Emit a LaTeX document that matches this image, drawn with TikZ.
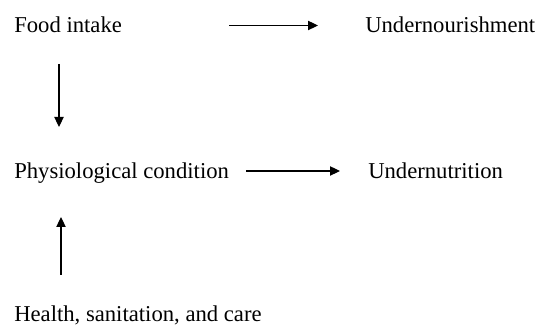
\documentclass[tikz,border=0pt]{standalone}
\usepackage{fontspec}
\setmainfont{Liberation Serif}
\usepackage{tikz}
\usetikzlibrary{arrows.meta}

\begin{document}
\begin{tikzpicture}[x=0.75pt,y=0.75pt,
			lbl/.style={anchor=base west,inner sep=0pt,font=\fontsize{17}{20}\selectfont},
			arr/.style={-{Triangle[length=7.5pt,width=7pt]},line width=0.8pt}]
			\useasboundingbox (0,0) rectangle (547,327);
			\node[lbl] (food) at (14,294) {Food intake};
			\node[lbl] (nourish) at (365,294) {Undernourishment};
			\node[lbl] (physio) at (14,148) {Physiological condition};
			\node[lbl] (nutrition) at (368,148) {Undernutrition};
			\node[lbl] (health) at (14,5) {Health, sanitation, and care};
			\draw[arr] ([shift={(107,7.5)}]food.base east) -- ([shift={(-47,7.5)}]nourish.base west);
			\draw[arr] ([shift={(17,8)}]physio.base east) -- ([shift={(-28,8)}]nutrition.base west);
			\draw[arr] ([shift={(45,-31)}]food.base west) -- ([shift={(45,52)}]physio.base west);
			\draw[arr] ([shift={(47,47)}]health.base west) -- ([shift={(47,-38)}]physio.base west);
		\end{tikzpicture}
\end{document}
